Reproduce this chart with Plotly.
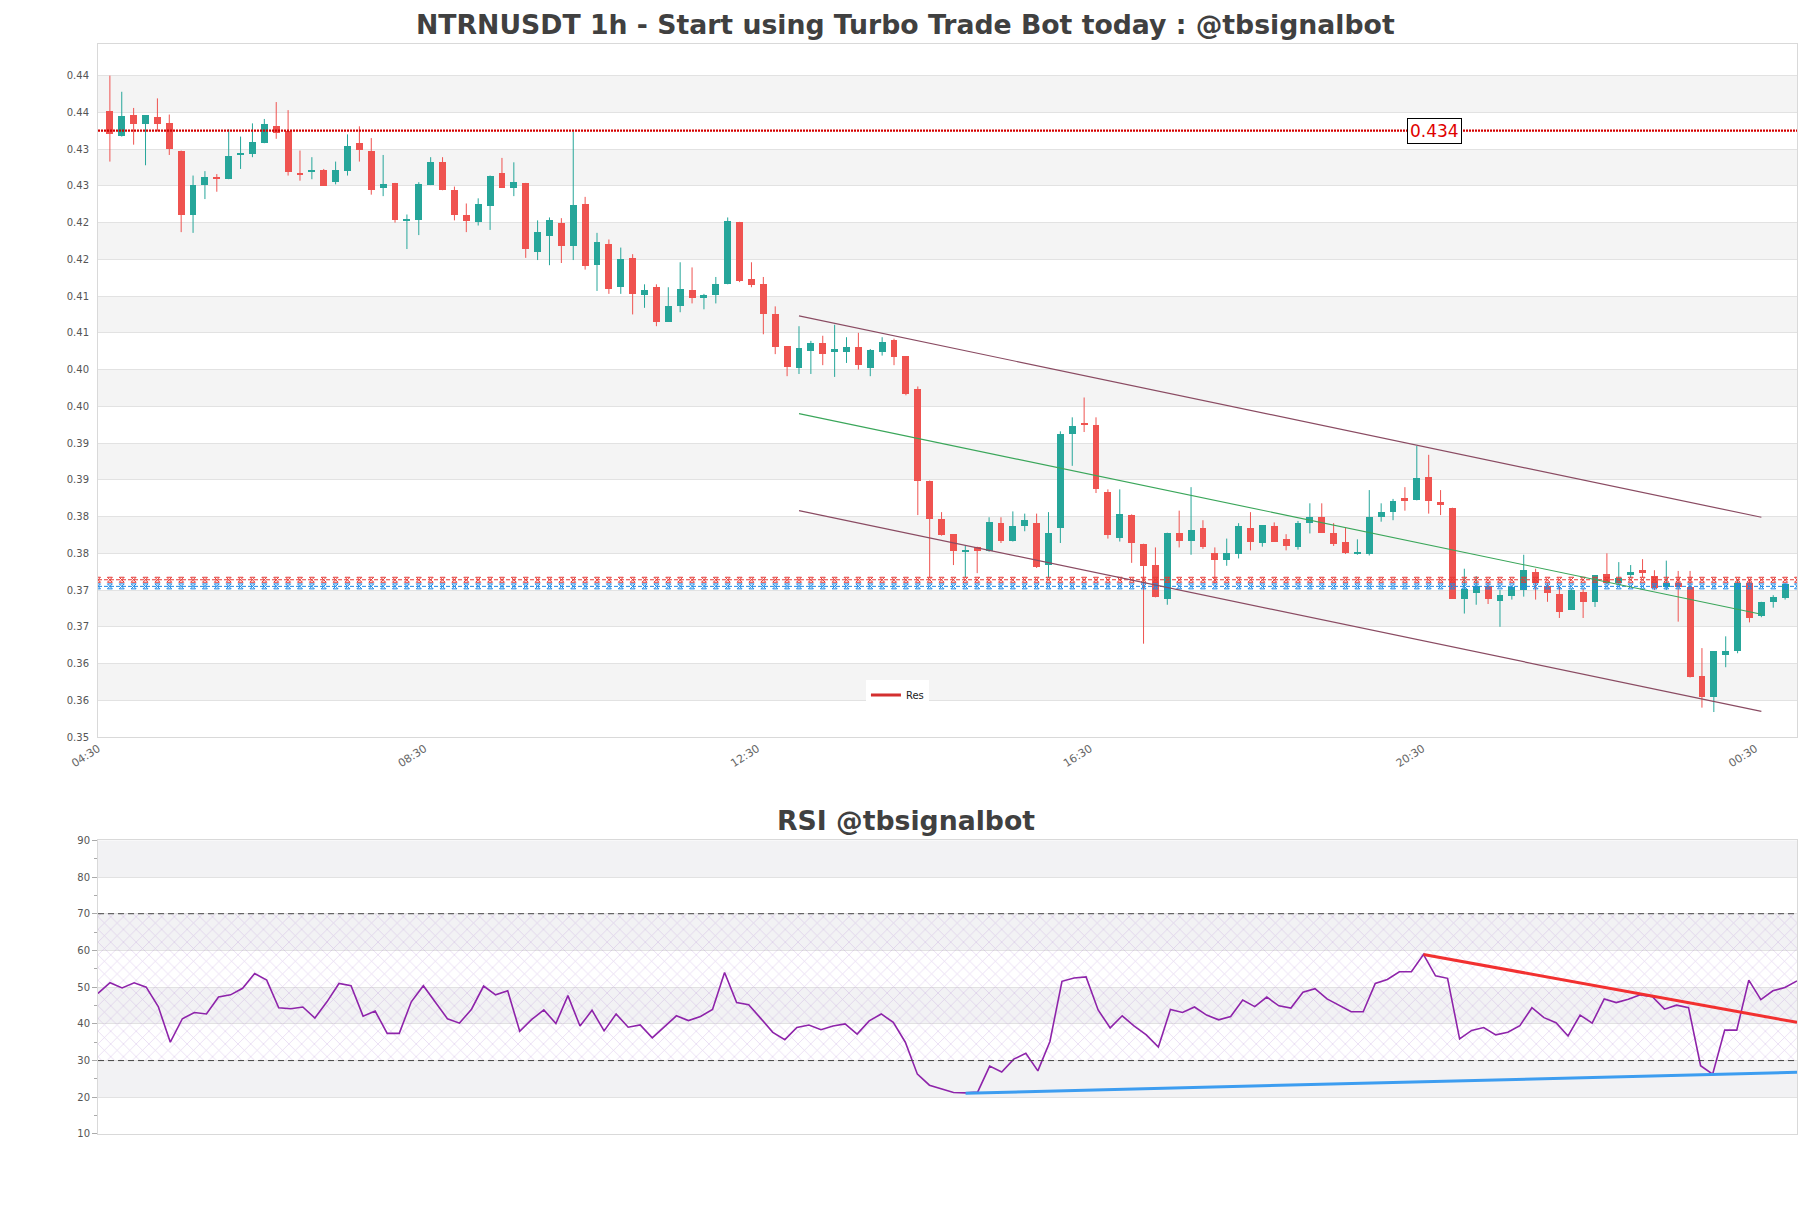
import plotly.graph_objects as go

# ---------------- data ----------------
opens = [0.4367,0.4333,0.4362,0.4349,0.4358,0.4350,0.4313,0.4225,0.4266,0.4277,
         0.4274,0.4307,0.4308,0.4323,0.4346,0.4340,0.4283,0.4285,0.4286,0.4270,
         0.4285,0.4323,0.4312,0.4262,0.4269,0.4218,0.4218,0.4266,0.4298,0.4260,
         0.4226,0.4216,0.4237,0.4282,0.4262,0.4269,0.4175,0.4197,0.4214,0.4183,
         0.4240,0.4157,0.4186,0.4127,0.4167,0.4116,0.4127,0.4080,0.4101,0.4123,
         0.4112,0.4117,0.4131,0.4216,0.4138,0.4131,0.4090,0.4047,0.4017,0.4040,
         0.4051,0.4039,0.4039,0.4046,0.4017,0.4039,0.4055,0.4033,0.3989,0.3864,
         0.3811,0.3791,0.3767,0.3773,0.3768,0.3806,0.3782,0.3802,0.3806,0.3749,
         0.3799,0.3927,0.3942,0.3940,0.3848,0.3786,0.3817,0.3778,0.3749,0.3703,
         0.3793,0.3782,0.3799,0.3766,0.3756,0.3764,0.3799,0.3779,0.3802,0.3784,
         0.3774,0.3806,0.3814,0.3792,0.3780,0.3764,0.3764,0.3814,0.3821,0.3840,
         0.3837,0.3869,0.3835,0.3827,0.3703,0.3711,0.3721,0.3700,0.3707,0.3715,
         0.3739,0.3721,0.3710,0.3688,0.3713,0.3699,0.3737,0.3725,0.3735,0.3742,
         0.3734,0.3719,0.3725,0.3719,0.3598,0.3569,0.3627,0.3632,0.3725,0.3680,
         0.3699,0.3704]
highs = [0.4415,0.4393,0.4371,0.4361,0.4384,0.4362,0.4313,0.4279,0.4285,0.4281,
         0.4342,0.4332,0.4350,0.4356,0.4379,0.4368,0.4313,0.4304,0.4288,0.4298,
         0.4335,0.4346,0.4330,0.4307,0.4269,0.4226,0.4270,0.4304,0.4304,0.4264,
         0.4241,0.4248,0.4279,0.4303,0.4297,0.4269,0.4218,0.4222,0.4221,0.4339,
         0.4250,0.4201,0.4192,0.4181,0.4172,0.4131,0.4131,0.4127,0.4161,0.4154,
         0.4118,0.4141,0.4222,0.4216,0.4161,0.4141,0.4101,0.4047,0.4074,0.4054,
         0.4061,0.4076,0.4059,0.4065,0.4043,0.4059,0.4057,0.4033,0.3992,0.3864,
         0.3821,0.3791,0.3775,0.3774,0.3814,0.3814,0.3822,0.3819,0.3819,0.3821,
         0.3931,0.3950,0.3977,0.3950,0.3852,0.3852,0.3818,0.3778,0.3773,0.3793,
         0.3823,0.3855,0.3810,0.3773,0.3785,0.3806,0.3821,0.3803,0.3807,0.3791,
         0.3809,0.3833,0.3833,0.3806,0.3800,0.3784,0.3851,0.3833,0.3839,0.3855,
         0.3911,0.3899,0.3851,0.3827,0.3744,0.3734,0.3726,0.3715,0.3720,0.3763,
         0.3744,0.3724,0.3720,0.3717,0.3717,0.3735,0.3765,0.3753,0.3749,0.3757,
         0.3742,0.3755,0.3741,0.3741,0.3636,0.3632,0.3652,0.3730,0.3730,0.3699,
         0.3708,0.3724]
lows = [0.4298,0.4332,0.4321,0.4293,0.4339,0.4307,0.4202,0.4201,0.4247,0.4257,
        0.4274,0.4288,0.4304,0.4323,0.4329,0.4279,0.4272,0.4274,0.4265,0.4267,
        0.4279,0.4298,0.4253,0.4251,0.4215,0.4179,0.4198,0.4266,0.4259,0.4218,
        0.4202,0.4211,0.4205,0.4262,0.4251,0.4167,0.4164,0.4157,0.4160,0.4164,
        0.4151,0.4122,0.4118,0.4118,0.4090,0.4099,0.4074,0.4080,0.4093,0.4105,
        0.4097,0.4105,0.4131,0.4134,0.4127,0.4063,0.4036,0.4006,0.4009,0.4009,
        0.4021,0.4005,0.4024,0.4015,0.4006,0.4034,0.4021,0.3980,0.3817,0.3731,
        0.3789,0.3749,0.3732,0.3738,0.3767,0.3779,0.3781,0.3795,0.3745,0.3731,
        0.3779,0.3884,0.3930,0.3847,0.3785,0.3781,0.3752,0.3642,0.3705,0.3695,
        0.3773,0.3763,0.3771,0.3724,0.3748,0.3758,0.3769,0.3774,0.3781,0.3769,
        0.3770,0.3792,0.3793,0.3775,0.3764,0.3763,0.3762,0.3808,0.3810,0.3823,
        0.3837,0.3819,0.3817,0.3703,0.3683,0.3695,0.3696,0.3665,0.3702,0.3706,
        0.3702,0.3699,0.3677,0.3688,0.3677,0.3692,0.3723,0.3723,0.3731,0.3732,
        0.3715,0.3715,0.3672,0.3596,0.3555,0.3549,0.3610,0.3629,0.3671,0.3678,
        0.3691,0.3702]
closes = [0.4336,0.4360,0.4349,0.4361,0.4349,0.4315,0.4225,0.4266,0.4277,0.4274,
          0.4305,0.4309,0.4324,0.4349,0.4337,0.4284,0.4281,0.4286,0.4265,0.4286,
          0.4319,0.4314,0.4259,0.4268,0.4218,0.4220,0.4268,0.4297,0.4260,0.4225,
          0.4217,0.4240,0.4279,0.4262,0.4270,0.4179,0.4202,0.4218,0.4183,0.4239,
          0.4156,0.4188,0.4124,0.4165,0.4118,0.4123,0.4080,0.4101,0.4125,0.4112,
          0.4117,0.4131,0.4217,0.4135,0.4130,0.4091,0.4046,0.4019,0.4044,0.4051,
          0.4036,0.4043,0.4046,0.4021,0.4042,0.4053,0.4032,0.3982,0.3863,0.3811,
          0.3790,0.3768,0.3768,0.3768,0.3807,0.3782,0.3802,0.3810,0.3747,0.3793,
          0.3927,0.3938,0.3940,0.3853,0.3790,0.3819,0.3779,0.3748,0.3705,0.3793,
          0.3782,0.3797,0.3774,0.3756,0.3765,0.3802,0.3781,0.3803,0.3781,0.3775,
          0.3806,0.3814,0.3793,0.3778,0.3766,0.3767,0.3814,0.3821,0.3836,0.3836,
          0.3867,0.3836,0.3831,0.3703,0.3716,0.3720,0.3703,0.3708,0.3719,0.3742,
          0.3724,0.3711,0.3685,0.3715,0.3699,0.3735,0.3725,0.3732,0.3739,0.3738,
          0.3718,0.3724,0.3719,0.3596,0.3569,0.3632,0.3632,0.3725,0.3677,0.3699,
          0.3705,0.3723]
rsi = [48.3,51.2,49.8,51.2,50.0,44.7,35.0,41.4,43.1,42.7,
       47.3,47.9,49.7,53.7,51.9,44.4,44.1,44.6,41.6,46.0,
       51.0,50.4,42.1,43.5,37.4,37.4,46.0,50.4,45.9,41.4,
       40.2,44.0,50.3,47.9,49.0,38.0,41.2,43.8,40.1,47.7,
       39.4,43.7,38.1,42.7,39.1,39.7,36.2,39.2,42.2,40.9,
       42.0,43.9,54.0,45.8,45.2,41.5,37.7,35.7,39.0,39.7,
       38.4,39.4,40.0,37.2,40.8,42.7,40.4,35.0,26.3,23.3,
       22.3,21.3,21.2,21.4,28.5,26.9,30.4,32.0,27.2,35.2,
       51.6,52.5,52.8,43.8,38.9,42.2,39.4,37.0,33.7,43.9,
       43.1,44.6,42.4,41.1,42.0,46.5,44.7,47.3,44.9,44.3,
       48.6,49.6,46.8,45.0,43.3,43.3,51.0,52.1,54.2,54.2,
       58.9,53.1,52.4,35.9,38.2,39.0,37.0,37.7,39.5,44.4,
       41.7,40.3,36.7,42.4,40.2,46.8,45.8,46.7,47.9,47.4,
       44.0,45.1,44.4,28.6,26.3,38.3,38.3,51.9,46.6,49.0,
       49.9,51.7]

x_tick_labels = ["04:30", "08:30", "12:30", "16:30", "20:30", "00:30"]
x_tick_candles = [-0.98, 26.5, 54.5, 82.5, 110.5, 138.5]
y_tick_values = [0.3515,0.3565,0.3615,0.3665,0.3715,0.3765,0.3815,0.3865,0.3915,0.3965,
                 0.4015,0.4065,0.4115,0.4165,0.4215,0.4265,0.4315,0.4365,0.4415]
y_tick_labels = ["0.35","0.36","0.36","0.37","0.37","0.38","0.38","0.39","0.39","0.40",
                 "0.40","0.41","0.41","0.42","0.42","0.43","0.43","0.44","0.44"]

resistance_level = 0.434
sr_red_level = 0.3729
sr_blue_level = 0.3720
channel_x = [58, 139]
channel_upper = [0.4088, 0.3814]
channel_mid = [0.3955, 0.3682]
channel_lower = [0.3823, 0.3550]

rsi_red_x = [110, 141]
rsi_red_y = [58.9, 40.4]
rsi_blue_x = [72, 141]
rsi_blue_y = [21.1, 26.8]
rsi_ticks = [10, 20, 30, 40, 50, 60, 70, 80, 90]

# ---------------- figure ----------------
INC = '#26a69a'
DEC = '#ef5350'
FONT = 'DejaVu Sans'
n = len(opens)
idx = list(range(n))

fig = go.Figure()

# wicks
for color, up in [(INC, True), (DEC, False)]:
    xs, ys = [], []
    for i in idx:
        if (closes[i] >= opens[i]) == up:
            xs += [i, i, None]
            ys += [lows[i], highs[i], None]
    fig.add_trace(go.Scatter(x=xs, y=ys, mode='lines', line=dict(color=color, width=1),
                             showlegend=False, hoverinfo='skip', xaxis='x', yaxis='y'))

# bodies
base, height, cols = [], [], []
for o, c in zip(opens, closes):
    lo, hi = min(o, c), max(o, c)
    base.append(lo)
    height.append(max(hi - lo, 0.00014))
    cols.append(INC if c >= o else DEC)
fig.add_trace(go.Bar(x=idx, y=height, base=base, width=0.58,
                     marker=dict(color=cols, line=dict(width=0)),
                     showlegend=False, xaxis='x', yaxis='y'))

xr = [-1, n]
# resistance line
fig.add_trace(go.Scatter(x=xr, y=[resistance_level] * 2, mode='lines',
                         line=dict(color='#d40000', width=2.2, dash='2px,1px'),
                         showlegend=False, hoverinfo='skip', xaxis='x', yaxis='y'))
# S/R pattern lines
pat_x = list(range(-1, n + 1))
for lvl, colr in [(sr_red_level, '#e53935'), (sr_blue_level, '#1e88e5')]:
    fig.add_trace(go.Scatter(x=pat_x, y=[lvl] * len(pat_x), mode='lines+markers',
                             line=dict(color=colr, width=1, dash='4px,2px'),
                             marker=dict(symbol='hourglass-open', size=5, line=dict(color=colr, width=1)),
                             showlegend=False, hoverinfo='skip', xaxis='x', yaxis='y'))

# channel
fig.add_trace(go.Scatter(x=channel_x, y=channel_upper, mode='lines', line=dict(color='#8a4b62', width=1.2),
                         showlegend=False, xaxis='x', yaxis='y'))
fig.add_trace(go.Scatter(x=channel_x, y=channel_lower, mode='lines', line=dict(color='#8a4b62', width=1.2),
                         showlegend=False, xaxis='x', yaxis='y'))
fig.add_trace(go.Scatter(x=channel_x, y=channel_mid, mode='lines', line=dict(color='#3aa65a', width=1.1),
                         showlegend=False, xaxis='x', yaxis='y'))

# legend dummy
fig.add_trace(go.Scatter(x=[None], y=[None], mode='lines', name='Res',
                         line=dict(color='#d32f2f', width=3), xaxis='x', yaxis='y'))

# RSI hatch region
fig.add_trace(go.Scatter(x=[0, n - 1], y=[30, 30], mode='lines', line=dict(width=0),
                         showlegend=False, hoverinfo='skip', xaxis='x2', yaxis='y2'))
fig.add_trace(go.Scatter(x=[0, n - 1], y=[70, 70], mode='lines', line=dict(width=0),
                         fill='tonexty', fillcolor='rgba(0,0,0,0)',
                         fillpattern=dict(shape='x', fgcolor='rgba(160,110,200,0.6)',
                                          bgcolor='rgba(0,0,0,0)', size=9, solidity=0.15),
                         showlegend=False, hoverinfo='skip', xaxis='x2', yaxis='y2'))
# RSI line
fig.add_trace(go.Scatter(x=idx, y=rsi, mode='lines', line=dict(color='#8e24aa', width=1.6),
                         showlegend=False, xaxis='x2', yaxis='y2'))
fig.add_trace(go.Scatter(x=rsi_red_x, y=rsi_red_y, mode='lines', line=dict(color='#f23030', width=3),
                         showlegend=False, xaxis='x2', yaxis='y2'))
fig.add_trace(go.Scatter(x=rsi_blue_x, y=rsi_blue_y, mode='lines', line=dict(color='#3d9df0', width=3),
                         showlegend=False, xaxis='x2', yaxis='y2'))

shapes = []
# main bands
for i in range(1, len(y_tick_values) - 1, 2):
    shapes.append(dict(type='rect', xref='x domain', yref='y', x0=0, x1=1,
                       y0=y_tick_values[i], y1=y_tick_values[i + 1],
                       fillcolor='#f4f4f4', line=dict(width=0), layer='below'))
# RSI bands
for lo in [20, 40, 60, 80]:
    shapes.append(dict(type='rect', xref='x2 domain', yref='y2', x0=0, x1=1, y0=lo, y1=lo + 10,
                       fillcolor='#f2f2f4', line=dict(width=0), layer='below'))
for lvl in [30, 70]:
    shapes.append(dict(type='line', xref='x2 domain', yref='y2', x0=0, x1=1, y0=lvl, y1=lvl,
                       line=dict(color='#444444', width=1, dash='6px,4px')))

annotations = [
    dict(text='NTRNUSDT 1h - Start using Turbo Trade Bot today : @tbsignalbot',
         xref='paper', yref='paper', x=0.4753, y=1.0183, xanchor='center', yanchor='middle',
         showarrow=False, font=dict(family=FONT, size=26.7, color='#404040', weight='bold')),
    dict(text='RSI @tbsignalbot',
         xref='paper', yref='paper', x=0.4753, y=0.2872, xanchor='center', yanchor='middle',
         showarrow=False, font=dict(family=FONT, size=26.7, color='#404040', weight='bold')),
    dict(text='0.434', xref='x', yref='y', x=111.5, y=resistance_level, showarrow=False,
         font=dict(family=FONT, size=17, color='#e00000'), bgcolor='white',
         bordercolor='black', borderwidth=1, borderpad=2),
]

axis_common = dict(showline=True, mirror=True, linecolor='#d9d9d9', linewidth=1, zeroline=False)

fig.update_layout(
    width=1811, height=1208,
    margin=dict(l=98, r=14, t=44, b=74),
    paper_bgcolor='white', plot_bgcolor='white',
    font=dict(family=FONT, size=10, color='#555555'),
    shapes=shapes, annotations=annotations,
    showlegend=True,
    legend=dict(x=0.452, y=0.4028, xanchor='left', yanchor='middle', bgcolor='white',
                font=dict(family=FONT, size=10, color='#222222'), borderwidth=0),
    xaxis=dict(domain=[0, 1], anchor='y', range=[-1, n], showgrid=False,
               tickmode='array', tickvals=x_tick_candles, ticktext=x_tick_labels,
               tickangle=-33, ticks='', tickfont=dict(family=FONT, size=11, color='#666666'),
               **axis_common),
    yaxis=dict(domain=[0.3642, 1], anchor='x', range=[0.3515, 0.4458],
               tickmode='array', tickvals=y_tick_values, ticktext=y_tick_labels,
               showgrid=True, gridcolor='#e2e2e2', gridwidth=1,
               ticks='outside', ticklen=6, tickcolor='rgba(0,0,0,0)',
               tickfont=dict(family=FONT, size=10, color='#555555'), **axis_common),
    xaxis2=dict(domain=[0, 1], anchor='y2', range=[0, n - 1], showgrid=False,
                showticklabels=False, ticks='', **axis_common),
    yaxis2=dict(domain=[0, 0.26945], anchor='x2', range=[10, 90],
                tickmode='array', tickvals=rsi_ticks, showgrid=True, gridcolor='#e2e2e2',
                ticks='outside', ticklen=5, tickcolor='#aaaaaa',
                minor=dict(dtick=5, ticks='outside', ticklen=3, tickcolor='#aaaaaa', showgrid=False),
                tickfont=dict(family=FONT, size=10, color='#555555'), **axis_common),
    bargap=0,
)

fig.write_html('out.html')
